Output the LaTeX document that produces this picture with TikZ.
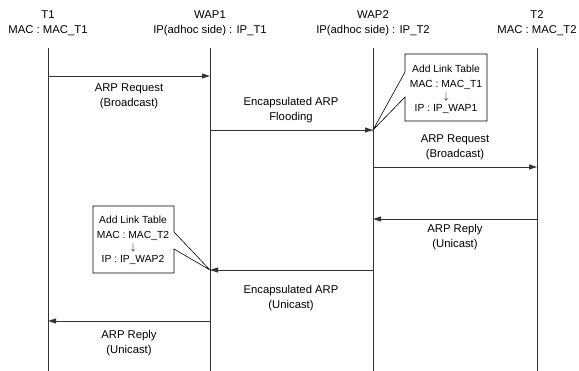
\documentclass[tikz,border=0pt]{standalone}
\usepackage{fontspec}
\setmainfont{Liberation Sans}
\usetikzlibrary{arrows.meta}
\begin{document}
\begin{tikzpicture}[x=1pt,y=-1pt,
  lifeline/.style={draw=black!80,line width=0.7pt},
  msg/.style={draw=black!80,line width=0.9pt,-{Triangle[length=8pt,width=5pt]}},
  head/.style={align=center,font=\fontsize{11.3}{15}\selectfont,inner sep=0pt},
  lbl/.style={align=center,font=\fontsize{11.3}{15}\selectfont,inner sep=0pt},
  note/.style={align=center,font=\fontsize{10.3}{15}\selectfont,inner sep=0pt},
  callout/.style={draw=black,line width=0.6pt,fill=white,line join=miter}]
  \useasboundingbox (0,0) rectangle (579,371);

  % participants
  \node[head] (hT1)   at (48,23)  {T1\\MAC : MAC\_T1};
  \node[head] (hWAP1) at (210,23) {WAP1\\IP(adhoc side) : IP\_T1};
  \node[head] (hWAP2) at (373,23) {WAP2\\IP(adhoc side) : IP\_T2};
  \node[head] (hT2)   at (537,23) {T2\\MAC : MAC\_T2};

  % lifelines
  \coordinate (t1top) at (48,48);   \coordinate (t1bot) at (48,371);
  \coordinate (w1top) at (210,48);  \coordinate (w1bot) at (210,371);
  \coordinate (w2top) at (373,48);  \coordinate (w2bot) at (373,371);
  \coordinate (t2top) at (537,48);  \coordinate (t2bot) at (537,371);
  \draw[lifeline] (t1top) -- (t1bot);
  \draw[lifeline] (w1top) -- (w1bot);
  \draw[lifeline] (w2top) -- (w2bot);
  \draw[lifeline] (t2top) -- (t2bot);

  % message end points
  \coordinate (m1a) at (48,76);   \coordinate (m1b) at (210,76);
  \coordinate (m2a) at (210,130); \coordinate (m2b) at (373,130);
  \coordinate (m3a) at (373,167); \coordinate (m3b) at (537,167);
  \coordinate (m4a) at (537,219); \coordinate (m4b) at (373,219);
  \coordinate (m5a) at (373,270); \coordinate (m5b) at (210,270);
  \coordinate (m6a) at (210,321); \coordinate (m6b) at (48,321);

  % messages
  \draw[msg] (m1a) -- (m1b);
  \draw[msg] (m2a) -- (m2b);
  \draw[msg] (m3a) -- (m3b);
  \draw[msg] (m4a) -- (m4b);
  \draw[msg] (m5a) -- (m5b);
  \draw[msg] (m6a) -- (m6b);

  % message labels
  \node[lbl] (l1) at (129,96)  {ARP Request\\(Broadcast)};
  \node[lbl] (l2) at (291,110) {Encapsulated ARP\\Flooding};
  \node[lbl] (l3) at (455,147) {ARP Request\\(Broadcast)};
  \node[lbl] (l4) at (455,237) {ARP Reply\\(Unicast)};
  \node[lbl] (l5) at (291,298) {Encapsulated ARP\\(Unicast)};
  \node[lbl] (l6) at (129,343) {ARP Reply\\(Unicast)};

  % callout at WAP2
  \draw[callout] (405,54) -- (487,54) -- (487,121) -- (405,121) -- (405,97)
     -- (m2b) -- (405,72) -- cycle;
  \node[note] (n1) at (446,89) {Add Link Table\\MAC : MAC\_T1\\[-3pt]$\downarrow$\\[-3pt]IP : IP\_WAP1};

  % callout at WAP1
  \draw[callout] (93,206) -- (174,206) -- (174,232) -- (m5b) -- (174,249)
     -- (174,273) -- (93,273) -- cycle;
  \node[note] (n2) at (133,240) {Add Link Table\\MAC : MAC\_T2\\[-3pt]$\downarrow$\\[-3pt]IP : IP\_WAP2};
\end{tikzpicture}
\end{document}
